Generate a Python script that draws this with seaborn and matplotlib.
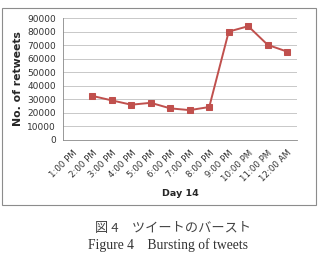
import matplotlib
matplotlib.use("Agg")
import matplotlib.pyplot as plt
import numpy as np
import pandas as pd
import seaborn as sns
from matplotlib.patches import Rectangle

# data (1:00 PM has no value)
hours = ["1:00 PM", "2:00 PM", "3:00 PM", "4:00 PM", "5:00 PM", "6:00 PM",
         "7:00 PM", "8:00 PM", "9:00 PM", "10:00 PM", "11:00 PM", "12:00 AM"]
retweets = [np.nan, 32500, 29200, 26000, 27400, 23300, 22000, 24300,
            80000, 84000, 70200, 65200]
y_ticks = [0, 10000, 20000, 30000, 40000, 50000, 60000, 70000, 80000, 90000]

df = pd.DataFrame({"hour": hours, "retweets": retweets})
df["pos"] = np.arange(len(hours))

sns.set_style("white")
plt.rcParams["font.family"] = ["DejaVu Sans"]

fig = plt.figure(figsize=(3.2, 2.62), dpi=100)
ax = fig.add_axes([0.197, 0.466, 0.731, 0.465])

sns.lineplot(data=df, x="pos", y="retweets", color="#c0504d", linewidth=1.4,
             marker="s", markersize=5, markeredgecolor="#c0504d", ax=ax)

ax.set_xlim(-0.5, len(hours) - 0.5)
ax.set_ylim(0, 90000)
ax.set_yticks(y_ticks)
ax.set_yticklabels([str(v) for v in y_ticks], fontsize=6.5, color="#333333")
ax.set_xticks(df["pos"])
ax.set_xticklabels(hours, rotation=45, ha="right", rotation_mode="anchor",
                   fontsize=6.2, color="#333333")
ax.set_xticks(np.arange(len(hours) + 1) - 0.5, minor=True)
ax.tick_params(axis="x", which="major", length=0, pad=6)
ax.tick_params(axis="x", which="minor", length=3, color="#888888", width=0.6)
ax.tick_params(axis="y", length=3, color="#888888", width=0.6, pad=2)
ax.grid(axis="y", color="#bfbfbf", linewidth=0.6)
ax.set_axisbelow(True)
for side in ["top", "right"]:
    ax.spines[side].set_visible(False)
for side in ["left", "bottom"]:
    ax.spines[side].set_color("#888888")
    ax.spines[side].set_linewidth(0.6)

ax.set_xlabel("Day 14", fontsize=6.8, fontweight="bold", labelpad=4)
ax.set_ylabel("No. of retweets", fontsize=7.8, fontweight="bold", labelpad=3)

# chart border like the spreadsheet chart box
fig.patches.append(Rectangle((0.006, 0.217), 0.981, 0.753, transform=fig.transFigure,
                             fill=False, edgecolor="#8c8c8c", linewidth=0.8))

fig.text(0.54, 0.126, "図 4　ツイートのバースト", ha="center", va="center",
         fontsize=9.5, color="#444444", family=["Noto Sans CJK JP", "DejaVu Sans"])
fig.text(0.525, 0.065, "Figure 4    Bursting of tweets", ha="center", va="center",
         fontsize=9.8, color="#333333", family=["Liberation Serif"])

fig.savefig("out.png", dpi=100)
